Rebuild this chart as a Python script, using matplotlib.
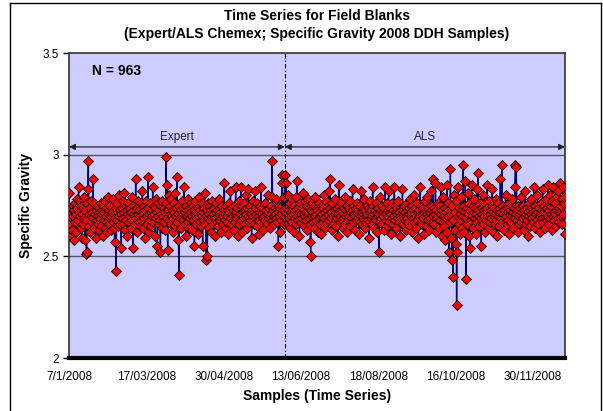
import matplotlib
matplotlib.use("Agg")
import matplotlib.pyplot as plt
from matplotlib.lines import Line2D
import numpy as np

plt.rcParams['font.family'] = ['Liberation Sans', 'DejaVu Sans']

expert_sg = [
    2.81, 2.66, 2.72, 2.60, 2.74, 2.69, 2.63, 2.75, 2.70, 2.58, 2.73, 2.76, 2.67, 2.71, 2.62, 2.78, 2.74, 2.68, 2.84, 2.72,
    2.77, 2.70, 2.64, 2.75, 2.59, 2.71, 2.74, 2.66, 2.69, 2.79, 2.73, 2.58, 2.68, 2.51, 2.52, 2.76, 2.83, 2.97, 2.71, 2.65,
    2.74, 2.62, 2.70, 2.77, 2.67, 2.72, 2.88, 2.69, 2.64, 2.76, 2.71, 2.59, 2.73, 2.68, 2.75, 2.66, 2.70, 2.63, 2.74, 2.72,
    2.69, 2.76, 2.65, 2.71, 2.73, 2.60, 2.75, 2.68, 2.72, 2.64, 2.77, 2.70, 2.74, 2.62, 2.67, 2.79, 2.71, 2.66, 2.73, 2.69,
    2.75, 2.63, 2.70, 2.72, 2.67, 2.78, 2.64, 2.71, 2.57, 2.69, 2.74, 2.43, 2.68, 2.76, 2.72, 2.65, 2.80, 2.70, 2.73, 2.66,
    2.71, 2.54, 2.74, 2.69, 2.77, 2.66, 2.72, 2.81, 2.63, 2.70, 2.75, 2.68, 2.73, 2.60, 2.76, 2.71, 2.67, 2.74, 2.70, 2.64,
    2.72, 2.79, 2.68, 2.75, 2.54, 2.71, 2.73, 2.66, 2.70, 2.88, 2.69, 2.74, 2.62, 2.71, 2.77, 2.67, 2.73, 2.65, 2.70, 2.76,
    2.68, 2.72, 2.82, 2.64, 2.71, 2.75, 2.69, 2.59, 2.73, 2.77, 2.70, 2.66, 2.74, 2.89, 2.71, 2.62, 2.68, 2.76, 2.72, 2.65,
    2.73, 2.70, 2.84, 2.67, 2.75, 2.71, 2.60, 2.74, 2.69, 2.78, 2.72, 2.55, 2.70, 2.76, 2.66, 2.73, 2.68, 2.52, 2.75, 2.71,
    2.64, 2.77, 2.70, 2.74, 2.67, 2.72, 2.63, 2.76, 2.99, 2.69, 2.85, 2.53, 2.73, 2.80, 2.68, 2.75, 2.71, 2.66, 2.78, 2.70,
    2.73, 2.62, 2.69, 2.76, 2.72, 2.65, 2.81, 2.70, 2.74, 2.89, 2.67, 2.71, 2.58, 2.41, 2.75, 2.69, 2.73, 2.64, 2.70, 2.77,
    2.68, 2.74, 2.71, 2.84, 2.66, 2.72, 2.75, 2.60, 2.70, 2.73, 2.67, 2.78, 2.71, 2.64, 2.74, 2.69, 2.76, 2.72, 2.63, 2.70,
    2.75, 2.68, 2.73, 2.55, 2.71, 2.77, 2.66, 2.72, 2.69, 2.74, 2.61, 2.70, 2.79, 2.67, 2.73, 2.71, 2.65, 2.76, 2.70, 2.55,
    2.72, 2.68, 2.74, 2.81, 2.66, 2.70, 2.48, 2.73, 2.50, 2.76, 2.69, 2.64, 2.71, 2.75, 2.68, 2.62, 2.73, 2.70, 2.77, 2.66,
    2.71, 2.74, 2.60, 2.69, 2.76, 2.72, 2.67, 2.73, 2.70, 2.65, 2.78, 2.71, 2.68, 2.74, 2.62, 2.72, 2.69, 2.75, 2.66, 2.70,
    2.73, 2.86, 2.68, 2.71, 2.64, 2.75, 2.70, 2.67, 2.73, 2.61, 2.76, 2.72, 2.69, 2.82, 2.66, 2.71, 2.74, 2.68, 2.70, 2.63,
    2.75, 2.71, 2.67, 2.84, 2.72, 2.69, 2.74, 2.60, 2.70, 2.77, 2.66, 2.73, 2.71, 2.84, 2.68, 2.75, 2.62, 2.72, 2.70, 2.76,
    2.69, 2.73, 2.66, 2.80, 2.71, 2.64, 2.74, 2.70, 2.83, 2.67, 2.72, 2.75, 2.68, 2.71, 2.59, 2.73, 2.70, 2.77, 2.66, 2.72,
    2.74, 2.82, 2.69, 2.71, 2.65, 2.76, 2.70, 2.73, 2.61, 2.68, 2.75, 2.72, 2.84, 2.67, 2.71, 2.74, 2.69, 2.63, 2.72, 2.70,
    2.76, 2.68, 2.73, 2.71, 2.66, 2.80, 2.72, 2.69, 2.74, 2.70, 2.64, 2.75, 2.71, 2.79, 2.97, 2.68, 2.73, 2.70, 2.66, 2.74,
    2.71, 2.78, 2.69, 2.73, 2.67, 2.72, 2.55, 2.75, 2.70, 2.62, 2.74, 2.68, 2.71, 2.90, 2.86, 2.73, 2.66, 2.79, 2.70,
]

als_sg = [
    2.90, 2.74, 2.86, 2.68, 2.71, 2.80, 2.66, 2.73, 2.69, 2.76, 2.64, 2.72, 2.70, 2.78, 2.67, 2.74, 2.71, 2.62, 2.75, 2.69,
    2.73, 2.66, 2.79, 2.87, 2.70, 2.74, 2.68, 2.72, 2.60, 2.76, 2.71, 2.67, 2.74, 2.69, 2.81, 2.72, 2.65, 2.73, 2.70, 2.77,
    2.68, 2.72, 2.75, 2.63, 2.71, 2.78, 2.69, 2.74, 2.66, 2.57, 2.50, 2.73, 2.70, 2.76, 2.67, 2.72, 2.64, 2.75, 2.70, 2.79,
    2.71, 2.68, 2.74, 2.62, 2.73, 2.69, 2.76, 2.66, 2.72, 2.70, 2.61, 2.75, 2.71, 2.67, 2.74, 2.80, 2.69, 2.72, 2.64, 2.77,
    2.70, 2.73, 2.67, 2.75, 2.71, 2.82, 2.68, 2.88, 2.74, 2.69, 2.72, 2.63, 2.76, 2.70, 2.66, 2.73, 2.71, 2.78, 2.65, 2.72,
    2.74, 2.69, 2.71, 2.60, 2.75, 2.85, 2.70, 2.67, 2.73, 2.76, 2.68, 2.72, 2.64, 2.71, 2.74, 2.69, 2.79, 2.66, 2.73, 2.70,
    2.62, 2.75, 2.71, 2.68, 2.74, 2.70, 2.77, 2.65, 2.72, 2.69, 2.73, 2.83, 2.67, 2.71, 2.75, 2.63, 2.70, 2.74, 2.68, 2.72,
    2.76, 2.69, 2.73, 2.61, 2.71, 2.67, 2.75, 2.70, 2.82, 2.72, 2.66, 2.74, 2.69, 2.71, 2.78, 2.64, 2.73, 2.70, 2.67, 2.75,
    2.71, 2.68, 2.74, 2.59, 2.72, 2.77, 2.69, 2.73, 2.66, 2.70, 2.84, 2.75, 2.71, 2.64, 2.73, 2.69, 2.76, 2.68, 2.72, 2.62,
    2.70, 2.74, 2.52, 2.71, 2.67, 2.79, 2.73, 2.69, 2.75, 2.66, 2.72, 2.70, 2.63, 2.74, 2.84, 2.68, 2.71, 2.76, 2.65, 2.73,
    2.70, 2.82, 2.67, 2.72, 2.74, 2.61, 2.71, 2.69, 2.76, 2.73, 2.66, 2.70, 2.84, 2.75, 2.68, 2.72, 2.64, 2.71, 2.74, 2.69,
    2.77, 2.67, 2.72, 2.70, 2.60, 2.74, 2.69, 2.73, 2.83, 2.66, 2.71, 2.75, 2.68, 2.72, 2.63, 2.70, 2.76, 2.69, 2.73, 2.67,
    2.74, 2.71, 2.65, 2.78, 2.70, 2.72, 2.62, 2.75, 2.69, 2.73, 2.80, 2.67, 2.71, 2.74, 2.64, 2.70, 2.76, 2.68, 2.72, 2.59,
    2.73, 2.70, 2.84, 2.67, 2.75, 2.71, 2.66, 2.74, 2.69, 2.72, 2.61, 2.77, 2.70, 2.73, 2.65, 2.71, 2.79, 2.68, 2.74, 2.70,
    2.63, 2.72, 2.69, 2.75, 2.82, 2.67, 2.73, 2.88, 2.70, 2.74, 2.66, 2.71, 2.86, 2.62, 2.73, 2.69, 2.76, 2.70, 2.64, 2.72,
    2.68, 2.75, 2.71, 2.84, 2.60, 2.73, 2.67, 2.79, 2.70, 2.65, 2.74, 2.58, 2.72, 2.69, 2.85, 2.62, 2.76, 2.70, 2.52, 2.73,
    2.67, 2.93, 2.71, 2.59, 2.48, 2.75, 2.40, 2.68, 2.80, 2.63, 2.72, 2.56, 2.77, 2.26, 2.52, 2.70, 2.84, 2.66, 2.74, 2.61,
    2.71, 2.79, 2.68, 2.73, 2.64, 2.95, 2.70, 2.75, 2.62, 2.72, 2.87, 2.39, 2.69, 2.74, 2.66, 2.81, 2.71, 2.60, 2.76, 2.54,
    2.73, 2.68, 2.85, 2.70, 2.75, 2.64, 2.72, 2.78, 2.69, 2.74, 2.61, 2.71, 2.83, 2.67, 2.73, 2.91, 2.70, 2.65, 2.76, 2.72,
    2.69, 2.55, 2.74, 2.71, 2.80, 2.66, 2.73, 2.70, 2.76, 2.62, 2.72, 2.68, 2.85, 2.74, 2.70, 2.64, 2.77, 2.71, 2.67, 2.73,
    2.69, 2.75, 2.83, 2.62, 2.72, 2.70, 2.74, 2.66, 2.71, 2.78, 2.68, 2.73, 2.60, 2.76, 2.70, 2.72, 2.65, 2.74, 2.88, 2.69,
    2.72, 2.95, 2.67, 2.75, 2.71, 2.63, 2.73, 2.69, 2.80, 2.70, 2.74, 2.66, 2.72, 2.68, 2.76, 2.61, 2.71, 2.73, 2.67, 2.75,
    2.70, 2.78, 2.64, 2.72, 2.69, 2.74, 2.84, 2.95, 2.71, 2.94, 2.68, 2.73, 2.62, 2.75, 2.70, 2.66, 2.74, 2.71, 2.79, 2.67,
    2.72, 2.69, 2.75, 2.63, 2.73, 2.70, 2.82, 2.66, 2.71, 2.74, 2.68, 2.72, 2.60, 2.76, 2.70, 2.73, 2.65, 2.71, 2.78, 2.69,
    2.74, 2.67, 2.72, 2.84, 2.70, 2.75, 2.64, 2.71, 2.73, 2.68, 2.80, 2.72, 2.66, 2.74, 2.70, 2.62, 2.76, 2.71, 2.69, 2.73,
    2.83, 2.67, 2.72, 2.75, 2.70, 2.64, 2.78, 2.71, 2.68, 2.74, 2.85, 2.70, 2.66, 2.73, 2.80, 2.69, 2.75, 2.71, 2.63, 2.77,
    2.70, 2.84, 2.72, 2.68, 2.76, 2.71, 2.65, 2.79, 2.73, 2.69, 2.82, 2.74, 2.67, 2.72, 2.86, 2.70, 2.75, 2.66, 2.78, 2.71,
    2.84, 2.76, 2.79, 2.61,
]

tick_labels = ["7/1/2008", "17/03/2008", "30/04/2008", "13/06/2008",
               "18/08/2008", "16/10/2008", "30/11/2008"]
tick_every = 150
lab_names = ["Expert", "ALS"]

values = np.array(expert_sg + als_sg)
n = len(values)
idx = np.arange(n)
split = len(expert_sg) - 0.5

W, H = 603, 411
fig = plt.figure(figsize=(W / 100, H / 100), dpi=100)
fig.patch.set_facecolor("white")

# outer chart frame
for xs, ys in [((10, 10), (0, 408)), ((10, 601), (408, 408)), ((601, 601), (0, 408))]:
    fig.add_artist(Line2D([x / W for x in xs], [y / H for y in ys],
                          color="black", lw=1.0, transform=fig.transFigure))

ax = fig.add_axes([69 / W, 1 - 358 / H, (565 - 69) / W, (358 - 53) / H])
ax.set_facecolor("#CCCCFF")
ax.set_xlim(-0.5, n - 0.5)
ax.set_ylim(2.0, 3.5)

for y in [2.5, 3.0]:
    ax.axhline(y, color="#555566", lw=1.0, zorder=1)

ax.plot(idx, values, color="#000080", lw=1.0, zorder=2)
ax.plot(idx, values, linestyle="none", marker="D", markersize=5.3,
        markerfacecolor="#FF0000", markeredgecolor="black", markeredgewidth=0.6, zorder=3)

ax.axvline(split, color="black", lw=0.8, linestyle=(0, (4, 2, 1, 2)), zorder=4)

# arrows
ya = 3.038
ax.annotate("", xy=(-0.5, ya), xytext=(split, ya),
            arrowprops=dict(arrowstyle="<|-|>", color="#222222", lw=0.9, mutation_scale=9, shrinkA=0, shrinkB=0))
ax.annotate("", xy=(split, ya), xytext=(n - 0.5, ya),
            arrowprops=dict(arrowstyle="<|-|>", color="#222222", lw=0.9, mutation_scale=9, shrinkA=0, shrinkB=0))
ax.text((-0.5 + split) / 2, 3.085, lab_names[0], ha="center", va="center", fontsize=8.5, color="#222222")
ax.text((split + n - 0.5) / 2, 3.085, lab_names[1], ha="center", va="center", fontsize=8.5, color="#222222")

ax.text(45, 3.41, "N = " + str(n), fontsize=10, fontweight="bold", ha="left", va="center")

ax.set_xticks(np.arange(len(tick_labels)) * tick_every)
ax.set_xticklabels(tick_labels, fontsize=8.5)
ax.set_yticks([2.0, 2.5, 3.0, 3.5])
ax.set_yticklabels(["2", "2.5", "3", "3.5"], fontsize=8.5)
ax.tick_params(axis="x", length=0, pad=9)
ax.tick_params(axis="y", length=4, width=1, direction="out", pad=3)

for s in ["left", "top", "right"]:
    ax.spines[s].set_color("#333333")
    ax.spines[s].set_linewidth(1.2)
ax.spines["bottom"].set_color("black")
ax.spines["bottom"].set_linewidth(3)

ax.set_ylabel("Specific Gravity", fontsize=10, fontweight="bold")
ax.yaxis.set_label_coords((33 - 69) / 496, 0.5)
ax.set_xlabel("Samples (Time Series)", fontsize=10, fontweight="bold", labelpad=5)

fig.text(317 / W, 1 - 16 / H, "Time Series for Field Blanks", ha="center", va="center",
         fontsize=10, fontweight="bold")
fig.text(317 / W, 1 - 34 / H, "(Expert/ALS Chemex; Specific Gravity 2008 DDH Samples)",
         ha="center", va="center", fontsize=10, fontweight="bold")

fig.savefig("out.png", dpi=100)
